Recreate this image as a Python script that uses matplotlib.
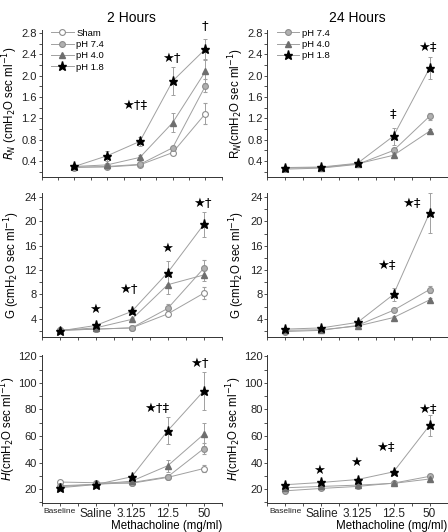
import matplotlib
matplotlib.use("Agg")
import matplotlib.pyplot as plt
from matplotlib.ticker import MultipleLocator, FixedLocator
from matplotlib.lines import Line2D
import numpy as np

plt.rcParams['font.family'] = ['Liberation Sans', 'DejaVu Sans']

x = [1, 2, 3, 4, 5]
xlabels = ['Baseline', 'Saline', '3.125', '12.5', '50']

# R_N, 2 hours
rn2_sham = [0.29, 0.29, 0.33, 0.56, 1.29]
rn2_sham_err = [0.01, 0.01, 0.02, 0.05, 0.20]
rn2_ph74 = [0.28, 0.30, 0.34, 0.65, 1.81]
rn2_ph74_err = [0.01, 0.01, 0.02, 0.04, 0.12]
rn2_ph40 = [0.30, 0.33, 0.47, 1.12, 2.08]
rn2_ph40_err = [0.01, 0.04, 0.04, 0.18, 0.22]
rn2_ph18 = [0.30, 0.50, 0.77, 1.90, 2.50]
rn2_ph18_err = [0.02, 0.09, 0.08, 0.27, 0.18]

# R_N, 24 hours
rn24_ph74 = [0.25, 0.27, 0.34, 0.60, 1.24]
rn24_ph74_err = [0.01, 0.01, 0.02, 0.04, 0.07]
rn24_ph40 = [0.27, 0.28, 0.35, 0.51, 0.96]
rn24_ph40_err = [0.01, 0.01, 0.02, 0.03, 0.04]
rn24_ph18 = [0.28, 0.29, 0.36, 0.87, 2.14]
rn24_ph18_err = [0.01, 0.01, 0.02, 0.16, 0.21]

# G, 2 hours
g2_sham = [2.1, 2.3, 2.5, 4.8, 8.2]
g2_sham_err = [0.1, 0.1, 0.2, 0.3, 1.0]
g2_ph74 = [2.1, 2.3, 2.5, 5.7, 12.3]
g2_ph74_err = [0.1, 0.1, 0.2, 0.8, 1.4]
g2_ph40 = [2.1, 2.5, 3.9, 9.6, 11.2]
g2_ph40_err = [0.1, 0.2, 0.3, 1.5, 1.0]
g2_ph18 = [2.0, 2.9, 5.2, 11.6, 19.5]
g2_ph18_err = [0.1, 0.3, 0.4, 1.9, 2.0]

# G, 24 hours
g24_ph74 = [1.9, 2.1, 2.9, 5.4, 8.8]
g24_ph74_err = [0.1, 0.1, 0.2, 0.3, 0.6]
g24_ph40 = [2.1, 2.2, 2.8, 4.2, 7.1]
g24_ph40_err = [0.1, 0.1, 0.2, 0.3, 0.3]
g24_ph18 = [2.3, 2.5, 3.4, 8.0, 21.4]
g24_ph18_err = [0.1, 0.1, 0.3, 1.0, 3.3]

# H, 2 hours
h2_sham = [25.3, 24.8, 24.4, 28.8, 35.5]
h2_sham_err = [0.8, 0.8, 0.8, 1.5, 3.0]
h2_ph74 = [22.5, 23.6, 24.9, 29.3, 50.5]
h2_ph74_err = [0.8, 0.8, 0.8, 1.5, 4.0]
h2_ph40 = [21.8, 23.6, 26.0, 37.6, 61.3]
h2_ph40_err = [0.8, 0.8, 1.0, 4.5, 8.6]
h2_ph18 = [21.0, 23.4, 29.3, 64.0, 94.0]
h2_ph18_err = [0.8, 0.8, 1.5, 10.0, 14.5]

# H, 24 hours
h24_ph74 = [18.7, 20.5, 22.0, 24.5, 29.6]
h24_ph74_err = [0.6, 0.6, 0.8, 1.0, 1.5]
h24_ph40 = [21.0, 22.0, 23.0, 24.3, 27.6]
h24_ph40_err = [0.6, 0.6, 0.8, 1.0, 1.2]
h24_ph18 = [23.3, 25.0, 27.2, 33.0, 68.0]
h24_ph18_err = [0.6, 0.8, 1.2, 1.5, 8.0]

styles = {
    'Sham': dict(marker='o', ms=4.2, mfc='white', mec='#8c8c8c', mew=0.8),
    'pH 7.4': dict(marker='o', ms=4.2, mfc='#b0b0b0', mec='#8c8c8c', mew=0.8),
    'pH 4.0': dict(marker='^', ms=4.5, mfc='#6e6e6e', mec='#6e6e6e'),
    'pH 1.8': dict(marker='*', ms=6.5, mfc='black', mec='black'),
}
LINE = '#a0a0a0'


def draw(ax, series):
    handles = []
    for name, y, e in series:
        ax.errorbar(x, y, yerr=e, color=LINE, lw=0.7, elinewidth=0.7,
                    capsize=1.2, capthick=0.7, zorder=3, **styles[name])
        handles.append(Line2D([], [], color=LINE, lw=0.7, label=name, **styles[name]))
    return handles


def mark(ax, xs, ys, txt):
    ax.text(xs, ys, txt, fontsize=9.5, ha='center', va='center',
            family=['DejaVu Sans', 'Liberation Sans'], clip_on=False)


fig = plt.figure(figsize=(4.48, 5.32), dpi=100)
W = 0.402
lefts = [0.093, 0.597]
rows = [(0.667, 0.276), (0.3665, 0.271), (0.0545, 0.278)]
axes = [[fig.add_axes([l, b, W, h]) for l in lefts] for b, h in rows]

leg_l = draw(axes[0][0], [('Sham', rn2_sham, rn2_sham_err), ('pH 7.4', rn2_ph74, rn2_ph74_err),
                          ('pH 4.0', rn2_ph40, rn2_ph40_err), ('pH 1.8', rn2_ph18, rn2_ph18_err)])
leg_r = draw(axes[0][1], [('pH 7.4', rn24_ph74, rn24_ph74_err), ('pH 4.0', rn24_ph40, rn24_ph40_err),
                          ('pH 1.8', rn24_ph18, rn24_ph18_err)])
draw(axes[1][0], [('Sham', g2_sham, g2_sham_err), ('pH 7.4', g2_ph74, g2_ph74_err),
                  ('pH 4.0', g2_ph40, g2_ph40_err), ('pH 1.8', g2_ph18, g2_ph18_err)])
draw(axes[1][1], [('pH 7.4', g24_ph74, g24_ph74_err), ('pH 4.0', g24_ph40, g24_ph40_err),
                  ('pH 1.8', g24_ph18, g24_ph18_err)])
draw(axes[2][0], [('Sham', h2_sham, h2_sham_err), ('pH 7.4', h2_ph74, h2_ph74_err),
                  ('pH 4.0', h2_ph40, h2_ph40_err), ('pH 1.8', h2_ph18, h2_ph18_err)])
draw(axes[2][1], [('pH 7.4', h24_ph74, h24_ph74_err), ('pH 4.0', h24_ph40, h24_ph40_err),
                  ('pH 1.8', h24_ph18, h24_ph18_err)])

ylims = [(0.1, 2.85), (1.0, 24.7), (9.5, 121)]
ymaj = [0.4, 4, 20]
yfirst = [0.4, 4, 20]
for r in range(3):
    for c in range(2):
        ax = axes[r][c]
        for s in ['top', 'right']:
            ax.spines[s].set_visible(False)
        for s in ['left', 'bottom']:
            ax.spines[s].set_color('#333333')
            ax.spines[s].set_linewidth(0.7)
        ax.set_ylim(*ylims[r])
        ax.yaxis.set_major_locator(FixedLocator(np.arange(yfirst[r], ylims[r][1], ymaj[r])))
        ax.yaxis.set_minor_locator(MultipleLocator(ymaj[r] / 2))
        ax.set_xlim(0.5, 5.5)
        ax.xaxis.set_major_locator(FixedLocator(x))
        ax.xaxis.set_minor_locator(MultipleLocator(0.5))
        ax.tick_params(which='both', direction='out', colors='#333333', width=0.6,
                       labelsize=8, labelcolor='#222222')
        ax.tick_params(which='major', length=2.5, pad=1)
        ax.tick_params(which='minor', length=2)
        ax.tick_params(axis='x', which='minor', length=2.5)
        if r < 2:
            ax.set_xticklabels([])
        else:
            ax.set_xticklabels(xlabels, fontsize=8.5)
            ax.get_xticklabels()[0].set_fontsize(6)
            ax.set_xlabel('Methacholine (mg/ml)', fontsize=8.3, loc='right', labelpad=0)
axes[0][0].set_xlim(0, 5.5)
for ax in axes[0]:
    ax.set_yticklabels(['%.1f' % v for v in ax.get_yticks()])

unit = r'(cmH$_2$O sec ml$^{-1}$)'
axes[0][0].set_ylabel(r'$R_N$ ' + unit, fontsize=8.3, labelpad=1)
axes[0][1].set_ylabel(r'R$_N$' + unit, fontsize=8.3, labelpad=1)
axes[1][0].set_ylabel('G ' + unit, fontsize=8.3, labelpad=2)
axes[1][1].set_ylabel('G ' + unit, fontsize=8.3, labelpad=2)
axes[2][0].set_ylabel(r'$H$' + unit, fontsize=8.3, labelpad=0)
axes[2][1].set_ylabel(r'$H$' + unit, fontsize=8.3, labelpad=0)

axes[0][0].set_title('2 Hours', fontsize=10, pad=6)
axes[0][1].set_title('24 Hours', fontsize=10, pad=6)

for ax, hs in zip(axes[0], [leg_l, leg_r]):
    ax.legend(handles=hs, loc='upper left', bbox_to_anchor=(0.02, 1.05), frameon=False,
              fontsize=6.8, handlelength=2.4, handletextpad=0.3, labelspacing=0.25,
              borderaxespad=0.2)

# significance marks
mark(axes[0][0], 2.83, 1.45, '★†‡')
mark(axes[0][0], 3.95, 2.33, '★†')
mark(axes[0][0], 4.98, 2.94, '†')
mark(axes[0][1], 3.97, 1.29, '‡')
mark(axes[0][1], 4.94, 2.52, '★‡')
mark(axes[1][0], 1.98, 5.5, '★')
mark(axes[1][0], 2.92, 8.75, '★†')
mark(axes[1][0], 3.97, 15.5, '★')
mark(axes[1][0], 4.97, 23.0, '★†')
mark(axes[1][1], 3.80, 12.7, '★‡')
mark(axes[1][1], 4.50, 23.0, '★‡')
mark(axes[2][0], 3.69, 81, '★†‡')
mark(axes[2][0], 4.88, 115, '★†')
mark(axes[2][1], 1.94, 34.4, '★')
mark(axes[2][1], 2.97, 40.2, '★')
mark(axes[2][1], 3.78, 51, '★‡')
mark(axes[2][1], 4.94, 80, '★‡')

fig.savefig('out.png', dpi=100)
